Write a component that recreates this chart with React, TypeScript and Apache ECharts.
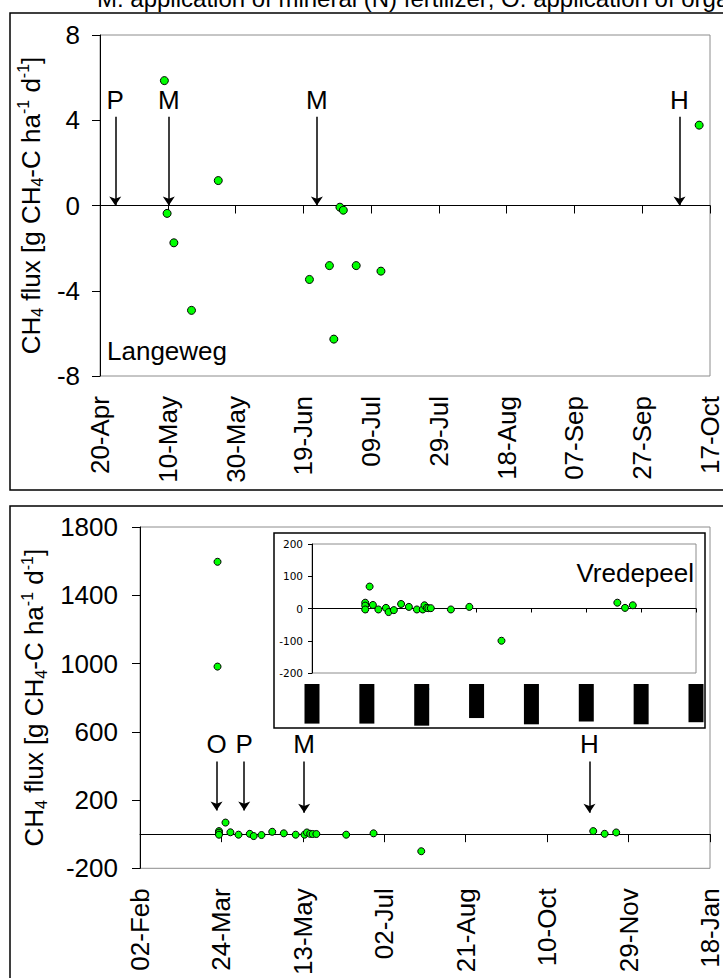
import React, { useEffect, useRef } from "react";
import * as echarts from "echarts";

const FONT = "'Liberation Sans', Arial, Helvetica, sans-serif";

const headerText =
  "M: application of mineral (N) fertilizer; O: application of organic fertilizer";

// ---------- Langeweg (top panel) : days since 20-Apr ----------
const langewegDateLabels = [
  "20-Apr", "10-May", "30-May", "19-Jun", "09-Jul",
  "29-Jul", "18-Aug", "07-Sep", "27-Sep", "17-Oct",
];
const langewegDays = [19, 19.8, 21.8, 27, 34.9, 61.8, 67.7, 69, 70.8, 71.8, 75.6, 82.9, 176.8];
const langewegFlux = [5.86, -0.37, -1.75, -4.92, 1.17, -3.47, -2.82, -6.27, -0.08, -0.22, -2.82, -3.08, 3.77];
const langewegEventLabels = ["P", "M", "M", "H"];
const langewegEventDays = [4.5, 20.3, 64, 171];
const langewegArrowTop = 4.17;

// ---------- Vredepeel (bottom panel) : days since 02-Feb ----------
const vredepeelDateLabels = [
  "02-Feb", "24-Mar", "13-May", "02-Jul", "21-Aug", "10-Oct", "29-Nov", "18-Jan",
];
const vredepeelDays = [
  47.6, 47.6, 48.5, 48.5, 48.5, 52.5, 55.5, 60.5, 67.4, 69.8, 74.6, 81.2, 88.3,
  95.6, 101, 102.5, 104.5, 106, 108.3, 126.6, 143.4, 172.7, 278.3, 285.3, 292.4,
];
const vredepeelFlux = [
  1596, 982, 18, 9, -3, 68, 11, -3, 2, -11, -5, 14, 5,
  -3, -3, 10, 2, 1, 1, -3, 5, -100, 18, 2, 10,
];
const vredepeelEventLabels = ["O", "P", "M", "H"];
const vredepeelEventDays = [47, 64, 100.8, 276];
const vredepeelArrowTop = 426;
const vredepeelArrowEnd = [139, 139, 126, 126];

const GREEN = "#00ff00";

function zip(xs: number[], ys: number[]) {
  return xs.map((x, i) => [x, ys[i]]);
}

const yName = "CH{sub|4} flux [g CH{sub|4}-C ha{sup|-1} d{sup|-1}]";
const yNameStyle = {
  fontFamily: FONT,
  fontSize: 26,
  color: "#000",
  lineHeight: 30,
  rich: {
    sub: { fontFamily: FONT, fontSize: 16, lineHeight: 16, verticalAlign: "bottom", color: "#000" },
    sup: { fontFamily: FONT, fontSize: 16, lineHeight: 16, verticalAlign: "top", color: "#000" },
  },
};

const plainNumber = (v: number) => String(v);

function labelAxis(grid: number, max: number, interval: number, labels: string[], extra: any = {}) {
  return {
    type: "value",
    gridIndex: grid,
    position: "bottom",
    min: 0,
    max,
    interval,
    axisLine: { show: false, onZero: false },
    axisTick: { show: false },
    splitLine: { show: false },
    axisLabel: {
      rotate: 90,
      margin: 20,
      fontFamily: FONT,
      fontSize: 26,
      lineHeight: 22,
      color: "#000",
      formatter: (v: number) => labels[Math.round(v / interval)] ?? "",
      ...extra,
    },
  };
}

function zeroAxis(grid: number, max: number, interval: number, tickLen: number, z = 0) {
  return {
    type: "value",
    gridIndex: grid,
    position: "top",
    min: 0,
    max,
    interval,
    z,
    axisLine: { show: true, onZero: true, lineStyle: { color: "#000", width: 1 } },
    axisTick: { show: true, inside: true, length: tickLen, lineStyle: { color: "#000", width: 1 } },
    axisLabel: { show: false },
    splitLine: { show: false },
  };
}

function arrows(labels: string[], days: number[], top: number, ends: number[] | null) {
  return {
    silent: true,
    animation: false,
    symbol: ["none", "arrow"],
    symbolSize: 9,
    lineStyle: { color: "#000", width: 1.5, type: "solid" },
    label: {
      show: true,
      position: "start",
      formatter: "{b}",
      fontFamily: FONT,
      fontSize: 26,
      color: "#000",
      distance: 4,
    },
    emphasis: { disabled: true },
    data: labels.map((lab, i) => [
      { name: lab, coord: [days[i], top] },
      { coord: [days[i], ends ? ends[i] : 0] },
    ]),
  };
}

export default function App() {
  const ref = useRef<HTMLDivElement>(null);

  useEffect(() => {
    document.body.style.margin = "0";
    if (!ref.current) return;
    const chart = echarts.init(ref.current, undefined, { renderer: "svg" });

    const option: any = {
      animation: false,
      backgroundColor: "#ffffff",
      textStyle: { fontFamily: FONT },
      grid: [
        { left: 100, top: 35, width: 610, height: 341, show: true, borderColor: "#8c8c8c", borderWidth: 1, backgroundColor: "transparent" },
        { left: 140, top: 527, width: 572, height: 349, show: true, borderColor: "#8c8c8c", borderWidth: 1, backgroundColor: "transparent" },
        { left: 312, top: 544, width: 384, height: 129, show: true, borderColor: "#8c8c8c", borderWidth: 1, backgroundColor: "transparent", z: 60 },
      ],
      xAxis: [
        labelAxis(0, 180, 20, langewegDateLabels),
        zeroAxis(0, 180, 20, 8),
        labelAxis(1, 350, 50, vredepeelDateLabels),
        zeroAxis(1, 350, 50, 8),
        {
          ...labelAxis(2, 350, 50, vredepeelDateLabels, {
            margin: 11,
            fontSize: 12.5,
            lineHeight: 15,
            color: "#000",
            backgroundColor: "#000",
          }),
          z: 60,
        },
        zeroAxis(2, 350, 50, 4, 60),
      ],
      yAxis: [
        {
          type: "value",
          gridIndex: 0,
          min: -8,
          max: 8,
          interval: 4,
          axisLine: { show: true, onZero: false, lineStyle: { color: "#000", width: 1 } },
          axisTick: { show: true, length: 8, lineStyle: { color: "#000" } },
          splitLine: { show: false },
          axisLabel: { margin: 20, fontFamily: FONT, fontSize: 26, color: "#000", formatter: plainNumber },
          name: yName,
          nameLocation: "middle",
          nameRotate: 90,
          nameGap: 41,
          nameTextStyle: yNameStyle,
        },
        {
          type: "value",
          gridIndex: 1,
          min: -200,
          max: 1800,
          interval: 400,
          axisLine: { show: true, onZero: false, lineStyle: { color: "#000", width: 1 } },
          axisTick: { show: true, length: 8, lineStyle: { color: "#000" } },
          splitLine: { show: false },
          axisLabel: { margin: 22, fontFamily: FONT, fontSize: 26, color: "#000", formatter: plainNumber },
          name: yName,
          nameLocation: "middle",
          nameRotate: 90,
          nameGap: 81,
          nameTextStyle: yNameStyle,
        },
        {
          type: "value",
          gridIndex: 2,
          min: -200,
          max: 200,
          interval: 100,
          z: 60,
          axisLine: { show: true, onZero: false, lineStyle: { color: "#000", width: 1 } },
          axisTick: { show: true, length: 4, lineStyle: { color: "#000" } },
          splitLine: { show: false },
          axisLabel: { margin: 9, fontFamily: "'DejaVu Sans', sans-serif", fontSize: 10.5, color: "#000", formatter: plainNumber },
        },
      ],
      series: [
        {
          type: "scatter",
          xAxisIndex: 0,
          yAxisIndex: 0,
          symbolSize: 8,
          itemStyle: { color: GREEN, borderColor: "#000", borderWidth: 1, opacity: 1 },
          data: zip(langewegDays, langewegFlux),
          markLine: arrows(langewegEventLabels, langewegEventDays, langewegArrowTop, null),
          z: 3,
        },
        {
          type: "scatter",
          xAxisIndex: 2,
          yAxisIndex: 1,
          symbolSize: 7,
          itemStyle: { color: GREEN, borderColor: "#000", borderWidth: 1, opacity: 1 },
          data: zip(vredepeelDays, vredepeelFlux),
          markLine: arrows(vredepeelEventLabels, vredepeelEventDays, vredepeelArrowTop, vredepeelArrowEnd),
          z: 3,
        },
        {
          type: "scatter",
          xAxisIndex: 4,
          yAxisIndex: 2,
          symbolSize: 7,
          clip: true,
          itemStyle: { color: GREEN, borderColor: "#000", borderWidth: 1, opacity: 1 },
          data: zip(vredepeelDays, vredepeelFlux).filter((d) => d[1] <= 200 && d[1] >= -200),
          z: 62,
        },
      ],
      graphic: {
        elements: [
          {
            type: "text",
            x: 97,
            y: 10,
            z: 1,
            style: { text: headerText, fontFamily: FONT, fontSize: 24, fill: "#000", verticalAlign: "bottom", align: "left" },
          },
          {
            type: "rect",
            z: 1,
            shape: { x: 10, y: 13, width: 720, height: 477 },
            style: { fill: "none", stroke: "#000", lineWidth: 1.5 },
          },
          {
            type: "rect",
            z: 1,
            shape: { x: 10, y: 506, width: 720, height: 480 },
            style: { fill: "none", stroke: "#000", lineWidth: 1.5 },
          },
          {
            type: "text",
            x: 107,
            y: 351,
            z: 5,
            style: { text: "Langeweg", fontFamily: FONT, fontSize: 26, fill: "#000", verticalAlign: "middle", align: "left" },
          },
          {
            type: "rect",
            z: 50,
            shape: { x: 274, y: 533, width: 431, height: 195 },
            style: { fill: "#fff", stroke: "#000", lineWidth: 1.5 },
          },
          {
            type: "text",
            x: 694,
            y: 573,
            z: 61,
            style: { text: "Vredepeel", fontFamily: FONT, fontSize: 26, fill: "#000", verticalAlign: "middle", align: "right" },
          },
        ],
      },
    };

    chart.setOption(option);
    return () => chart.dispose();
  }, []);

  return <div ref={ref} style={{ width: 723, height: 978 }} />;
}
